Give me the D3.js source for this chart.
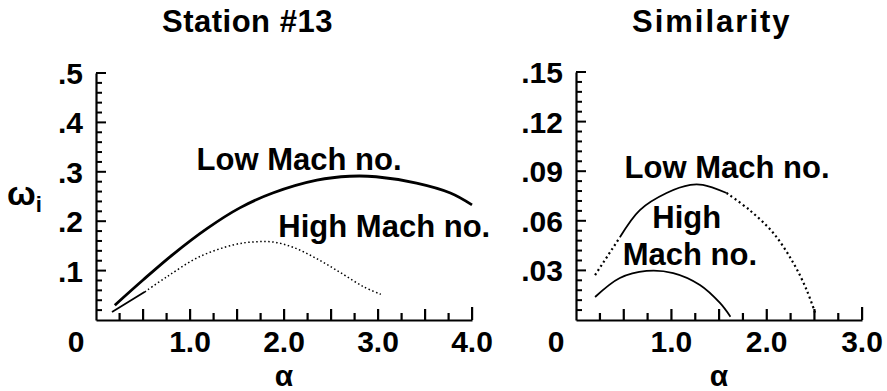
<!DOCTYPE html>
<html>
<head>
<meta charset="utf-8">
<script src="https://cdn.jsdelivr.net/npm/d3@7"></script>
<style>
  body { margin: 0; background: #fff; }
  svg { display: block; }
  text { font-family: "Liberation Sans", Arial, Helvetica, sans-serif; font-weight: bold; fill: #000; }
  .domain { stroke: #000; stroke-width: 2.2; }
</style>
</head>
<body>
<script>
// Station #13 panel
var st13Alpha = [0.20, 0.50, 0.82, 1.18, 1.53, 1.88, 2.35, 2.70, 2.98, 3.41, 3.77, 4.00];
var st13Low   = [0.030, 0.081, 0.133, 0.185, 0.227, 0.257, 0.283, 0.291, 0.290, 0.277, 0.257, 0.233];
var st13HighAlpha = [0.17, 0.52, 0.75, 1.10, 1.46, 1.67, 1.88, 2.10, 2.35, 2.60, 2.85, 3.03];
var st13High      = [0.016, 0.057, 0.087, 0.128, 0.152, 0.158, 0.158, 0.147, 0.124, 0.096, 0.067, 0.052];

// Similarity panel
var simLowAlpha = [0.20, 0.46, 0.67, 0.95, 1.20, 1.33, 1.58, 1.82, 2.07, 2.28, 2.42, 2.51];
var simLow      = [0.0272, 0.050, 0.0665, 0.0768, 0.0817, 0.0817, 0.0768, 0.0665, 0.0526, 0.0345, 0.0181, 0.004];
var simHighAlpha = [0.20, 0.46, 0.74, 1.02, 1.30, 1.51, 1.62];
var simHigh      = [0.0139, 0.0254, 0.0297, 0.0284, 0.0212, 0.0103, 0.002];

var leftXTicks = [1, 2, 3, 4];
var leftYTicks = [0.1, 0.2, 0.3, 0.4, 0.5];
var rightXTicks = [1, 2, 3];
var rightYTicks = [0.03, 0.06, 0.09, 0.12, 0.15];

var W = 887, H = 391;
var tickColor = "#000";

var svg = d3.select("body").append("svg")
    .attr("width", W)
    .attr("height", H);

svg.append("rect").attr("width", W).attr("height", H).attr("fill", "#fff");

function zip(xs, ys) {
  return xs.map(function(a, i) { return {a: a, w: ys[i]}; });
}
function between(pts, lo, hi) {
  return pts.filter(function(d) { return d.a >= lo - 1e-9 && d.a <= hi + 1e-9; });
}
function noZero(fmt) {
  return function(d) { return fmt(d).replace(/^0\./, "."); };
}
function isMult(v, step) {
  var r = v / step;
  return Math.abs(r - Math.round(r)) < 1e-6;
}

// draw one panel: axes, ticks, labels
function panel(opt) {
  var x = d3.scaleLinear().domain([0, opt.xMax]).range([opt.left, opt.right]);
  var y = d3.scaleLinear().domain([0, opt.yMax]).range([opt.bottom, opt.top]);
  var g = svg.append("g");

  // axis lines
  g.append("g")
      .attr("transform", "translate(0," + opt.bottom + ")")
      .call(d3.axisBottom(x).tickValues([]).tickSizeOuter(0));
  g.append("g")
      .attr("transform", "translate(" + opt.left + ",0)")
      .call(d3.axisLeft(y).tickValues([]).tickSizeOuter(0));

  // x ticks, pointing in
  var xv = d3.range(1, Math.round(opt.xMax / 0.25) + 1).map(function(i) { return i * 0.25; });
  var xTicks = xv.map(function(d) {
    var len = Math.abs(d - opt.xMax) < 1e-6 ? 13 : (isMult(d, 0.5) ? 11 : 7);
    return {px: x(d), len: len};
  });
  g.selectAll("rect.xt").data(xTicks).enter().append("rect")
      .attr("class", "xt")
      .attr("x", function(t) { return t.px - 1; })
      .attr("y", function(t) { return opt.bottom - t.len; })
      .attr("width", 2.2)
      .attr("height", function(t) { return t.len; })
      .attr("fill", tickColor);

  // y ticks, pointing in
  var yv = d3.range(1, Math.round(opt.yMax / opt.yMinor) + 1).map(function(i) { return i * opt.yMinor; });
  var yTicks = yv.map(function(d) {
    return {py: y(d), len: isMult(d, opt.yMajor) ? 10 : 6};
  });
  g.selectAll("rect.yt").data(yTicks).enter().append("rect")
      .attr("class", "yt")
      .attr("x", opt.left)
      .attr("y", function(t) { return t.py - 1; })
      .attr("width", function(t) { return t.len; })
      .attr("height", 2)
      .attr("fill", tickColor);

  // x tick labels
  g.selectAll("text.xl").data(opt.xLabels).enter().append("text")
      .attr("class", "xl")
      .attr("x", function(d) { return x(d); })
      .attr("y", opt.bottom + 32)
      .attr("text-anchor", "middle")
      .style("font-size", "30px")
      .text(d3.format(".1f"));

  // origin label
  g.append("text")
      .attr("x", x(0) - 20)
      .attr("y", opt.bottom + 32)
      .attr("text-anchor", "middle")
      .style("font-size", "30px")
      .text("0");

  // y tick labels
  g.selectAll("text.yl").data(opt.yLabels).enter().append("text")
      .attr("class", "yl")
      .attr("x", opt.left - 13)
      .attr("y", function(d) { return y(d) + 11; })
      .attr("text-anchor", "end")
      .style("font-size", "30px")
      .text(noZero(d3.format(opt.yFmt)));

  // x axis title
  g.append("text")
      .attr("x", (opt.left + opt.right) / 2)
      .attr("y", opt.bottom + 66)
      .attr("text-anchor", "middle")
      .style("font-size", "30px")
      .text("\u03b1");

  // panel title
  g.append("text")
      .attr("x", opt.titleX)
      .attr("y", 32)
      .style("font-size", "31px")
      .style("letter-spacing", opt.titleSpacing + "px")
      .text(opt.title);

  return {x: x, y: y, g: g};
}

var L = panel({
  left: 96, right: 472, top: 73, bottom: 320,
  xMax: 4, yMax: 0.5, yMinor: 0.02, yMajor: 0.1,
  xLabels: leftXTicks, yLabels: leftYTicks, yFmt: ".1f",
  title: "Station #13", titleX: 162, titleSpacing: 0.5
});

var R = panel({
  left: 576, right: 862, top: 72, bottom: 320,
  xMax: 3, yMax: 0.15, yMinor: 0.006, yMajor: 0.03,
  xLabels: rightXTicks, yLabels: rightYTicks, yFmt: ".2f",
  title: "Similarity", titleX: 632, titleSpacing: 2
});

function drawLine(P, pts, width, dash) {
  var line = d3.line()
      .curve(d3.curveCatmullRom)
      .x(function(d) { return P.x(d.a); })
      .y(function(d) { return P.y(d.w); });
  P.g.append("path")
      .datum(pts)
      .attr("fill", "none")
      .attr("stroke", "#000")
      .attr("stroke-width", width)
      .attr("stroke-dasharray", dash || null)
      .attr("d", line);
}

// Station #13 curves
var lLow = zip(st13Alpha, st13Low);
var lHigh = zip(st13HighAlpha, st13High);
drawLine(L, lLow, 2.8);
drawLine(L, between(lHigh, 0, 0.52), 1.8);
drawLine(L, between(lHigh, 0.52, 4), 1.5, "1.5,2.5");

// Similarity curves
var rLow = zip(simLowAlpha, simLow);
var rHigh = zip(simHighAlpha, simHigh);
drawLine(R, between(rLow, 0, 0.46), 2.2, "2,3");
drawLine(R, between(rLow, 0.46, 1.58), 1.8);
drawLine(R, between(rLow, 1.58, 3), 2.2, "2,3");
drawLine(R, rHigh, 1.8);

// curve annotations
function note(P, a, w, s) {
  P.g.append("text")
      .attr("x", P.x(a))
      .attr("y", P.y(w))
      .style("font-size", "31px")
      .text(s);
}
note(L, 1.07, 0.304, "Low Mach no.");
note(L, 1.94, 0.168, "High Mach no.");
note(R, 0.51, 0.0859, "Low Mach no.");
note(R, 0.80, 0.0557, "High");
note(R, 0.49, 0.0333, "Mach no.");

// y axis label
var yl = svg.append("text")
    .attr("x", 7)
    .attr("y", 205)
    .style("font-size", "34px");
yl.append("tspan").text("\u03c9");
yl.append("tspan").attr("dy", 7).style("font-size", "22px").text("i");
</script>
</body>
</html>
